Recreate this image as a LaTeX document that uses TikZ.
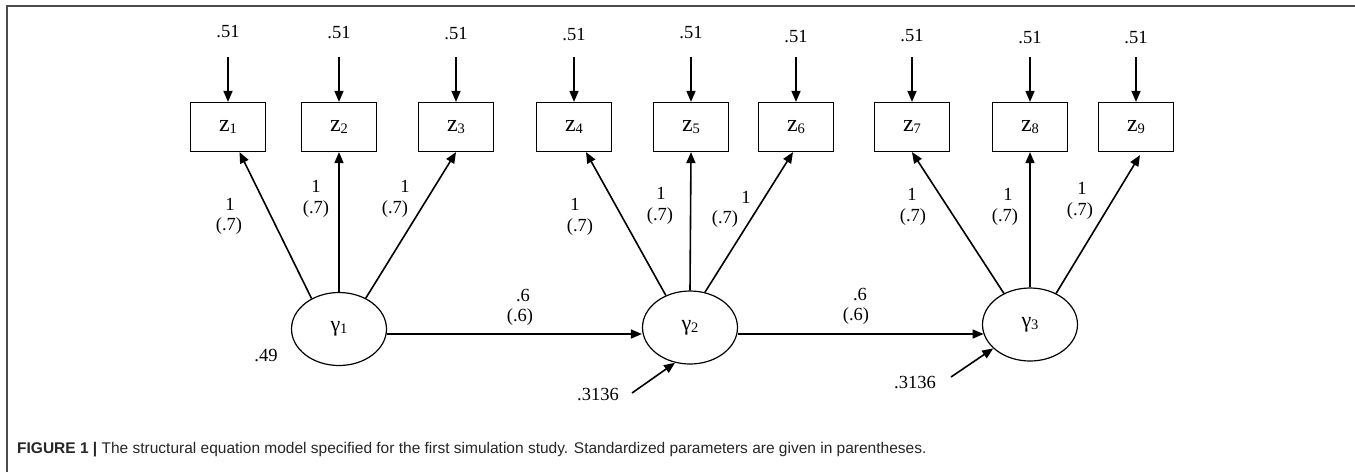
\documentclass[tikz,border=0pt]{standalone}
\usepackage{fontspec}
\setmainfont{Liberation Serif}
\newfontfamily\capfont{Liberation Sans}
\usetikzlibrary{arrows.meta,shapes.geometric}
\newcommand\sbs[1]{\raisebox{-2pt}{\fontsize{14.5}{14.5}\selectfont #1}}
\begin{document}
\begin{tikzpicture}[x=1pt,y=-1pt,
  obs/.style={draw,line width=1.2pt,minimum width=75pt,minimum height=49pt,inner sep=0pt,font=\fontsize{24}{26}\selectfont},
  lat/.style={draw,ellipse,line width=1.2pt,minimum width=95pt,minimum height=73pt,inner sep=0pt,font=\fontsize{22}{24}\selectfont},
  lbl/.style={inner sep=0pt,font=\fontsize{18.5}{21}\selectfont},
  arr/.style={line width=1.6pt,-{Triangle[length=11pt,width=9pt]}},
  frame/.style={draw=black!70,line width=1.6pt}
]
\useasboundingbox (0,0) rectangle (1355,472);
% frame
\coordinate (fa) at (7,472);
\coordinate (fb) at (7,6);
\coordinate (fc) at (1355,6);
\draw[frame] (fa) -- (fb) -- (fc);

% observed variables
\foreach \i/\x in {1/228,2/339,3/456,4/574,5/691,6/796,7/912,8/1030,9/1136}{
  \node[obs] (z\i) at (\x,127) {z\sbs{\i}};
}
% error terms on top
\foreach \i/\x/\ly in {1/228/32,2/339/33,3/456/34,4/574/35,5/691/33,6/796/37,7/912/36,8/1030/38,9/1136/38}{
  \node[lbl] (e\i) at (\x,\ly) {.51};
  \coordinate (s\i) at (\x,57);
  \draw[arr] (s\i) -- (z\i);
}

% latent variables
\node[lat] (g1) at (339,329) {γ\sbs{1}};
\node[lat] (g2) at (690,327.5) {γ\sbs{2}};
\node[lat] (g3) at (1030,324.5) {γ\sbs{3}};

% loadings
\draw[arr] (g1.132) -- ([xshift=11.5pt]z1.south);
\draw[arr] (g1.north) -- (z2.south);
\draw[arr] (g1.49) -- (z3.south);
\draw[arr] (g2.127) -- ([xshift=12pt]z4.south);
\draw[arr] (g2.north) -- (z5.south);
\draw[arr] (g2.67) -- ([xshift=-3pt]z6.south);
\draw[arr] (g3.130) -- (z7.south);
\draw[arr] (g3.north) -- (z8.south);
\draw[arr] (g3.50) -- ([xshift=4pt,yshift=-3pt]z9.south);

% loading labels
\foreach \n/\ax/\ay/\bx/\by in {a/230/204/229/226, b/316/186/316/209, c/405/186/395/209,
  d/575/204/580/227, e/661/193/660/216, f/746/197/725/219,
  g/912/194/913/217, h/1008/194/1005/217, k/1082/188/1080/211}{
  \node[lbl] (l\n1) at (\ax,\ay) {1};
  \node[lbl] (l\n2) at (\bx,\by) {(.7)};
}

% structural paths
\draw[arr] ([yshift=-5pt]g1.east) -- ([yshift=-6.5pt]g2.west);
\draw[arr] ([yshift=-6.5pt]g2.east) -- ([yshift=-9.5pt,xshift=1.7pt]g3.west);
\node[lbl] (p1a) at (523,295) {.6};
\node[lbl] (p1b) at (520,317) {(.6)};
\node[lbl] (p2a) at (860,294) {.6};
\node[lbl] (p2b) at (856,316) {(.6)};

% residuals
\node[lbl] (v1) at (266,355) {.49};
\node[lbl] (v2) at (598,394) {.3136};
\node[lbl] (v3) at (915,382) {.3136};
\coordinate (r2) at (632,393);
\coordinate (r3) at (951,377);
\draw[arr] (r2) -- (g2.-113);
\draw[arr] (r3) -- (g3.213.5);

% caption
\node[anchor=west,inner sep=0pt,text=black!85,font=\capfont\fontsize{15.5}{18}\selectfont] (cap) at (17,450)
  {\textbf{FIGURE 1 |} The structural equation model specified for the first simulation study. Standardized parameters are given in parentheses.};
\end{tikzpicture}
\end{document}
